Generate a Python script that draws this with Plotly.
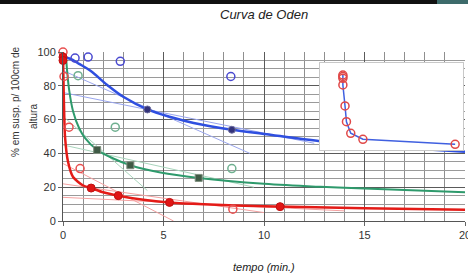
import plotly.graph_objects as go

# ---- data ----
# fitted curves
blue_curve_t = [0, 0.35, 0.8, 1.35, 2.2, 3.0, 4.2, 5.35, 6.5, 8.4, 10, 12.8, 15, 18, 20]
blue_curve_v = [97, 96, 93, 89, 80.5, 73.5, 66, 61.5, 58, 54, 51.5, 47.2, 45, 42.5, 41]
green_curve_t = [0.15, 0.3, 0.5, 0.8, 1.1, 1.7, 2.5, 3.35, 4.85, 6.75, 10, 12.8, 15, 20]
green_curve_v = [97, 78, 65, 55, 49, 42, 37, 33, 28.7, 25.5, 22, 20.2, 19.2, 17]
red_curve_t = [0, 0.02, 0.05, 0.1, 0.25, 0.5, 1.0, 1.4, 2.0, 2.75, 4.0, 5.3, 7.0, 10, 15, 20]
red_curve_v = [100, 85, 68, 50, 35, 26, 21, 19.5, 17, 15, 12.6, 11, 9.9, 8.7, 7.6, 6.7]

# measured points (filled) and tangent-intercept points (open)
blue_fill_t = [0, 4.2, 8.4]
blue_fill_v = [97, 66, 54]
blue_open_t = [0.6, 1.25, 2.85, 8.35]
blue_open_v = [96.4, 97, 94.5, 85.5]
green_fill_t = [1.7, 3.35, 6.75]
green_fill_v = [42, 33, 25.5]
green_open_t = [0.75, 2.6, 8.4]
green_open_v = [86, 55.5, 31]
red_fill_t = [0, 0, 1.4, 2.75, 5.3, 10.8]
red_fill_v = [97, 95, 19.5, 15, 11, 8.5]
red_open_t = [0, 0.05, 0.3, 0.85, 8.45]
red_open_v = [100, 85.5, 55.5, 31, 7]

# tangent lines (start / end points)
blue_tan = [([0, 9.3], [89, 40]), ([0, 12.5], [76, 46])]
green_tan = [([0, 4.2], [62, 18]), ([0, 9.5], [45, 20])]
red_tan = [([0, 5.5], [34, 0]), ([0, 10], [22, 5]), ([0, 14], [14, 6])]

# inset curve
inset_t = [0, 0, 0, 0, 0.3, 0.5, 1.1, 2.8, 15.7]
inset_v = [100, 98, 95.6, 86.7, 58.7, 37.7, 22.3, 14.3, 7.6]

x_ticks = [0, 5, 10, 15, 20]
y_ticks = [0, 20, 40, 60, 80, 100]

# ---- styles ----
BLUE = "#2f4fe0"
GREEN = "#2e9a6c"
RED = "#e41b17"

fig = go.Figure()

for (tx, ty) in blue_tan:
    fig.add_trace(go.Scatter(x=tx, y=ty, mode="lines", line=dict(color="#9aa6ee", width=1), hoverinfo="skip"))
for (tx, ty) in green_tan:
    fig.add_trace(go.Scatter(x=tx, y=ty, mode="lines", line=dict(color="#a8d4bc", width=1), hoverinfo="skip"))
for (tx, ty) in red_tan:
    fig.add_trace(go.Scatter(x=tx, y=ty, mode="lines", line=dict(color="#f4a0a0", width=1), hoverinfo="skip"))

fig.add_trace(go.Scatter(x=blue_curve_t, y=blue_curve_v, mode="lines",
                         line=dict(color=BLUE, width=2.5, shape="spline", smoothing=1.0)))
fig.add_trace(go.Scatter(x=green_curve_t, y=green_curve_v, mode="lines",
                         line=dict(color=GREEN, width=2, shape="spline", smoothing=1.0)))
fig.add_trace(go.Scatter(x=red_curve_t, y=red_curve_v, mode="lines",
                         line=dict(color=RED, width=2.5, shape="spline", smoothing=0.6)))

fig.add_trace(go.Scatter(x=blue_open_t, y=blue_open_v, mode="markers", cliponaxis=False,
                         marker=dict(symbol="circle-open", size=8, color="#4a4ad0", line=dict(width=1.5))))
fig.add_trace(go.Scatter(x=green_open_t, y=green_open_v, mode="markers", cliponaxis=False,
                         marker=dict(symbol="circle-open", size=8, color="#6fb090", line=dict(width=1.5))))
fig.add_trace(go.Scatter(x=red_open_t, y=red_open_v, mode="markers", cliponaxis=False,
                         marker=dict(symbol="circle-open", size=8, color="#e85050", line=dict(width=1.5))))
fig.add_trace(go.Scatter(x=blue_fill_t, y=blue_fill_v, mode="markers", cliponaxis=False,
                         marker=dict(symbol="circle", size=7, color="#33337a", line=dict(color="#7070a0", width=1))))
fig.add_trace(go.Scatter(x=green_fill_t, y=green_fill_v, mode="markers", cliponaxis=False,
                         marker=dict(symbol="square", size=7, color="#3f5a45", line=dict(color="#809080", width=1))))
fig.add_trace(go.Scatter(x=red_fill_t, y=red_fill_v, mode="markers", cliponaxis=False,
                         marker=dict(symbol="circle", size=8, color="#e01515", line=dict(color="#c01010", width=1))))

# inset
fig.add_trace(go.Scatter(x=inset_t, y=inset_v, mode="lines+markers", xaxis="x2", yaxis="y2", cliponaxis=False,
                         line=dict(color="#4060e0", width=1.5),
                         marker=dict(symbol="circle-open", size=8, color="#e04848", line=dict(width=1.5))))

W, H = 468, 276

def px(xp):
    return xp / W

def py(yp):
    return 1 - yp / H

FONT = "Liberation Sans, Arial, sans-serif"
axis_font = dict(family=FONT, size=11, color="#333333")

hidden = dict(showgrid=False, zeroline=False, showticklabels=False, ticks="", fixedrange=True)

fig.update_layout(
    width=W, height=H,
    margin=dict(l=0, r=0, t=0, b=0, autoexpand=False),
    paper_bgcolor="white", plot_bgcolor="white",
    showlegend=False,
    xaxis=dict(domain=[px(63), px(465)], range=[0, 20], tickvals=x_ticks, ticks="outside", ticklen=4,
               tickcolor="#666", showgrid=True, gridcolor="#5a5a5a", gridwidth=1, automargin=False,
               ticklabeloverflow="allow",
               minor=dict(dtick=1, showgrid=True, gridcolor="#8f8f8f", gridwidth=1),
               showline=True, linecolor="#555", zeroline=False, tickfont=axis_font),
    yaxis=dict(domain=[py(221), py(52)], range=[0, 100], tickvals=y_ticks, ticks="outside", ticklen=4,
               tickcolor="#666", showgrid=True, gridcolor="#5a5a5a", gridwidth=1, automargin=False,
               minor=dict(dtick=5, showgrid=True, gridcolor="#9a9a9a", gridwidth=1),
               showline=True, linecolor="#555", zeroline=False, tickfont=axis_font),
    xaxis2=dict(domain=[px(320), px(463)], anchor="y2", range=[-3.2, 16.8], showgrid=False,
                zeroline=False, showticklabels=False, ticks="", showline=True, mirror=True,
                linecolor="#c8c8c8"),
    yaxis2=dict(domain=[py(150), py(63)], anchor="x2", range=[0, 116], showgrid=False,
                zeroline=False, showticklabels=False, ticks="", showline=True, mirror=True,
                linecolor="#c8c8c8"),
    # top frame band (table border above the chart), drawn as thick axis lines
    xaxis3=dict(domain=[0, px(437)], anchor="y3", range=[0, 1], showline=True, linewidth=4,
                linecolor="#111111", **hidden),
    yaxis3=dict(domain=[py(2), 1], anchor="x3", range=[0, 1], showline=False, **hidden),
    xaxis4=dict(domain=[px(437), 1], anchor="y4", range=[0, 1], showline=True, linewidth=4,
                linecolor="#3d6b6b", **hidden),
    yaxis4=dict(domain=[py(2), 1], anchor="x4", range=[0, 1], showline=False, **hidden),
    annotations=[
        dict(text="Curva de Oden", x=px(264), y=py(14), xref="paper", yref="paper",
             xanchor="center", yanchor="middle", showarrow=False,
             font=dict(family=FONT, size=13, color="#222", style="italic")),
        dict(text="tempo (min.)", x=px(264), y=py(267), xref="paper", yref="paper",
             xanchor="center", yanchor="middle", showarrow=False,
             font=dict(family=FONT, size=11, color="#222", style="italic")),
        dict(text="% em susp. p/ 100cm de", x=px(15), y=py(102), xref="paper", yref="paper",
             xanchor="center", yanchor="middle", showarrow=False, textangle=-90,
             font=dict(family=FONT, size=10, color="#333")),
        dict(text="altura", x=px(33), y=py(117), xref="paper", yref="paper",
             xanchor="center", yanchor="middle", showarrow=False, textangle=-90,
             font=dict(family=FONT, size=10, color="#333")),
    ],
    shapes=[
        dict(type="rect", xref="paper", yref="paper", x0=0, x1=px(437), y0=py(4), y1=1,
             fillcolor="#111111", line=dict(width=0), layer="above"),
        dict(type="rect", xref="paper", yref="paper", x0=px(437), x1=1, y0=py(4), y1=1,
             fillcolor="#3d6b6b", line=dict(width=0), layer="above"),
    ],
)

fig.write_html("out.html", config={"displayModeBar": False},
               post_script="document.body.style.margin='0';document.body.style.padding='0';")
